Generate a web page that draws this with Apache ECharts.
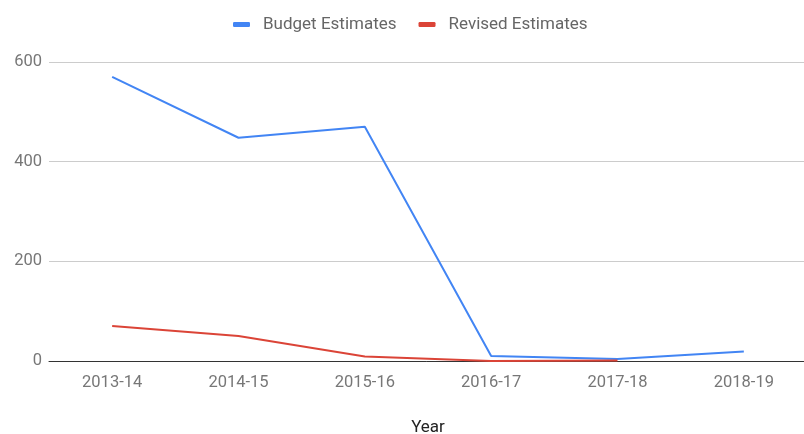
<!DOCTYPE html>
<html><head><meta charset="utf-8">
<script src="https://cdn.jsdelivr.net/npm/echarts@6/dist/echarts.min.js"></script>
<style>html,body{margin:0;padding:0;background:#fff}#c{width:804px;height:434px}</style>
</head><body><div id="c"></div>
<script>
var categories = ['2013-14','2014-15','2015-16','2016-17','2017-18','2018-19'];
var budgetEstimates = [570, 448, 470, 10, 4, 19];
var revisedEstimates = [70, 50, 9, 0, 1, null];
var yTicks = [0, 200, 400, 600];

var chart = echarts.init(document.getElementById('c'));
chart.setOption({
  animation: false,
  textStyle: {fontFamily: 'Roboto'},
  legend: {
    top: 11, left: 228, itemWidth: 17, itemHeight: 5, itemGap: 22,
    icon: 'roundRect',
    textStyle: {color: '#666', fontSize: 17, fontFamily: 'Roboto', padding: [0, 0, 0, 8]},
    data: ['Budget Estimates', 'Revised Estimates']
  },
  grid: {left: 49, right: -3, top: 62, bottom: 73, containLabel: false, outerBoundsMode: 'none'},
  xAxis: {
    type: 'category', data: categories, boundaryGap: true,
    name: 'Year', nameLocation: 'middle', nameGap: 67,
    nameTextStyle: {color: '#222', fontSize: 17, verticalAlign: 'middle'},
    axisLine: {lineStyle: {color: '#333', width: 1}},
    axisTick: {show: false},
    axisLabel: {color: '#777', fontSize: 16.5, margin: 13}
  },
  yAxis: {
    type: 'value', min: 0, max: 600, interval: 200,
    axisLine: {show: false}, axisTick: {show: false},
    splitLine: {lineStyle: {color: '#ccc'}},
    axisLabel: {color: '#777', fontSize: 16.5, margin: 7}
  },
  series: [
    {name: 'Budget Estimates', type: 'line', data: budgetEstimates, showSymbol: false, symbol: 'none',
     lineStyle: {color: '#4285f4', width: 2}, itemStyle: {color: '#4285f4'}},
    {name: 'Revised Estimates', type: 'line', data: revisedEstimates, showSymbol: false, symbol: 'none',
     lineStyle: {color: '#db4437', width: 2}, itemStyle: {color: '#db4437'}}
  ]
});
</script></body></html>
